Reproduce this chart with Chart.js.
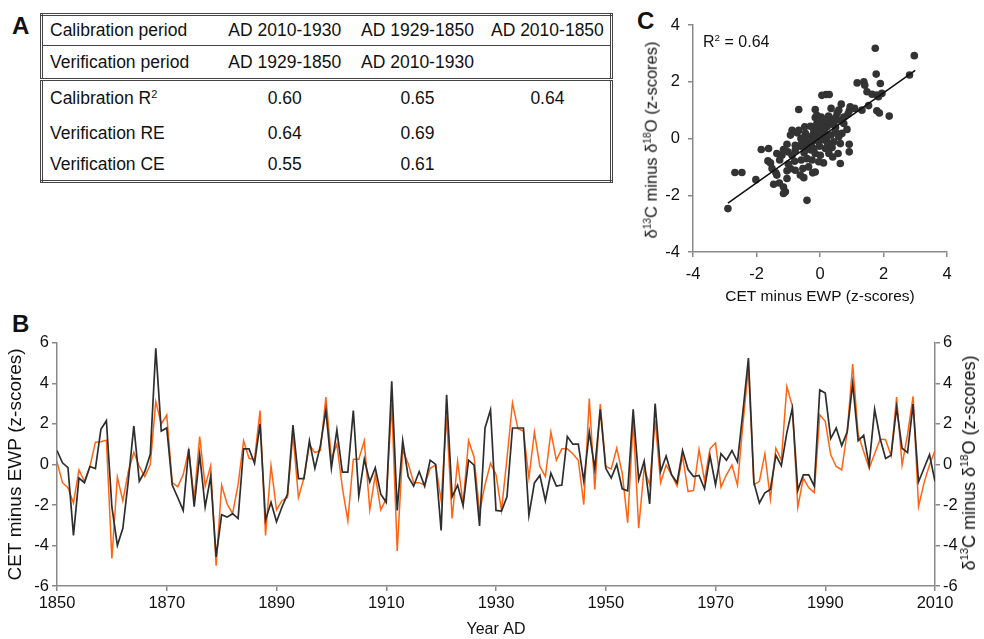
<!DOCTYPE html>
<html>
<head>
<meta charset="utf-8">
<script src="https://cdn.jsdelivr.net/npm/chart.js@4.4.0/dist/chart.umd.min.js"></script>
<style>
  body { margin: 0; background: #fff; font-family: "Liberation Sans", Arial, sans-serif; color: #111; }
  #page { position: relative; width: 984px; height: 639px; overflow: hidden; background: #fff; }
  .letter { position: absolute; font-size: 24px; font-weight: bold; line-height: 1; }
  .vtitle { position: absolute; white-space: nowrap; transform: translate(-50%, -50%) rotate(-90deg); line-height: 1; }
  sup { font-size: 62%; vertical-align: 0.6em; line-height: 0; }
  #tableA { position: absolute; left: 40px; top: 13px; width: 573px; height: 167px;
            border-collapse: collapse; border: 3px double #444; table-layout: fixed; font-size: 17.5px; }
  #tableA td { padding: 0; text-align: center; white-space: nowrap; }
  #tableA td.lab { text-align: left; padding-left: 7px; }
  #tableA tr.r1 td { border-bottom: 1px solid #444; }
  #tableA tr.r2 td { border-bottom: 3px double #444; }
  canvas { position: absolute; }
</style>
</head>
<body>
<div id="page">
  <div class="letter" style="left:12px; top:14px;">A</div>
  <div class="letter" style="left:12px; top:312px;">B</div>
  <div class="letter" style="left:637px; top:9px;">C</div>

  <table id="tableA">
    <colgroup><col style="width:177px"><col style="width:130px"><col style="width:134px"><col style="width:126px"></colgroup>
    <tr class="r1" style="height:31px"><td class="lab">Calibration period</td><td>AD 2010-1930</td><td>AD 1929-1850</td><td>AD 2010-1850</td></tr>
    <tr class="r2" style="height:34px"><td class="lab">Verification period</td><td>AD 1929-1850</td><td>AD 2010-1930</td><td></td></tr>
    <tr style="height:37px"><td class="lab">Calibration R<sup>2</sup></td><td>0.60</td><td>0.65</td><td>0.64</td></tr>
    <tr style="height:33px"><td class="lab">Verification RE</td><td>0.64</td><td>0.69</td><td></td></tr>
    <tr style="height:32px"><td class="lab">Verification CE</td><td>0.55</td><td>0.61</td><td></td></tr>
  </table>

  <canvas id="chartC" width="354" height="310" style="left:630px; top:0px;"></canvas>
  <div style="position:absolute; left:703px; top:34px; font-size:16px; line-height:1;">R<sup>2</sup> = 0.64</div>
  <div class="vtitle" style="left:651px; top:140px; font-size:16.5px;">&delta;<sup>13</sup>C minus &delta;<sup>18</sup>O (z-scores)</div>

  <canvas id="chartB" width="984" height="309" style="left:0px; top:330px;"></canvas>
  <div class="vtitle" style="left:969px; top:463px; font-size:18px;">&delta;<sup>13</sup>C minus &delta;<sup>18</sup>O (z-scores)</div>
</div>

<script>
// Serie temporal B (1850-2010), un valor por año
const firstYear = 1850;
const cetMinusEwp = [
  0.69, 0.08, -0.16, -3.5, -0.67, -0.9, -0.1, -0.2, 1.73, 2.16,
  -2.1, -4.0, -3.15, -0.8, 1.9, -0.83, -0.35, 0.5, 5.73, 1.65,
  1.8, -1.02, -1.63, -2.27, 0.77, -2.08, 0.48, -2.1, -0.6, -4.56,
  -2.48, -2.6, -2.43, -2.67, 0.77, 0.77, 0.05, 2.0, -2.75, -1.87,
  -2.83, -2.1, -1.47, 1.94, -0.7, -0.7, 1.17, -0.19, 0.93, 2.69,
  -0.19, 1.7, -0.38, -0.38, 2.66, -1.55, 0.26, -0.86, -0.16, -1.47,
  -1.87, 4.1, -2.27, 1.17, -0.6, -1.07, -0.35, -1.07, 0.21, 0.0,
  -3.26, 3.44, -1.6, -1.02, -2.03, 0.21, -0.03, -3.04, 1.8, 2.69,
  -2.27, -2.3, -1.6, 1.8, 1.8, 1.8, -2.51, -0.91, -0.54, -1.79,
  -0.43, -1.07, -1.02, 1.38, 1.0, 1.0, -0.83, 1.6, -0.22, 2.72,
  -0.19, -0.67, 0.0, -1.2, -1.3, 2.72, -0.75, 0.16, -1.95, 3.0,
  -0.35, 0.42, -0.51, -0.9, 0.69, -0.25, -0.6, -0.54, -1.2, 0.42,
  -1.0, 0.53, 0.21, 0.69, 0.13, 2.6, 5.25, -0.9, -1.9, -1.4,
  -1.23, 0.45, -0.06, 1.57, 2.77, -1.28, -0.51, -0.51, -1.07, 3.68,
  3.52, 1.28, 1.8, 0.93, 1.6, 4.0, 1.17, 1.44, -0.03, 2.72,
  1.28, 0.29, 0.45, 2.82, 0.8, 0.58, 2.98, -0.86, -0.19, 0.48,
  -0.83
];
const d13cMinusD18o = [
  0.13, -0.9, -1.15, -1.9, -0.27, -0.83, -0.1, 1.1, 1.12, 1.2,
  -4.64, -0.62, -1.8, -0.35, 0.6, -0.1, -0.6, 0.0, 3.1, 2.0,
  2.45, -0.9, -1.1, -0.5, 0.7, -1.7, 1.38, -1.07, -0.06, -5.0,
  -1.02, -1.95, -2.43, -1.0, 1.17, 0.29, 0.26, 2.66, -3.5, -0.06,
  -2.24, -1.79, -1.63, 1.49, -1.63, -0.67, 0.96, 0.58, 0.69, 3.33,
  0.29, 1.0, -1.15, -2.78, 0.26, 0.26, 1.17, -2.24, -0.51, -2.24,
  -1.7, 3.0, -4.27, 0.69, 0.05, -0.9, -0.9, -1.02, -0.19, -0.03,
  -1.79, 2.37, -2.67, 0.16, -1.95, 1.17, 0.37, -2.35, -1.0, 0.05,
  -0.5, -2.27, 0.3, 3.04, 1.76, 1.65, -0.67, 1.6, -0.1, -0.6,
  1.6, 0.21, 0.77, 0.77, 0.53, 0.21, -1.98, 3.25, -1.23, 2.98,
  -0.1, -0.22, 0.8, -0.43, -2.88, 2.18, -3.15, -0.19, -1.0, 2.18,
  -0.9, -0.03, -0.51, -1.07, 0.42, -1.34, -1.28, 0.74, -0.8, 0.77,
  1.06, -1.12, -0.51, -0.03, -1.02, 2.0, 4.77, -1.0, -0.83, 0.53,
  -1.71, 0.8, 0.21, 3.84, 2.88, -2.11, -0.67, -1.15, -1.39, 2.45,
  2.13, 0.48, -0.1, -0.27, 1.6, 4.96, 1.49, 0.64, -0.19, 0.53,
  1.25, 1.22, 0.42, 3.33, -0.03, 1.49, 3.36, -2.08, -0.91, -0.03,
  0.69
];
const yearTicks = [1850, 1870, 1890, 1910, 1930, 1950, 1970, 1990, 2010];
const zTicks = [-6, -4, -2, 0, 2, 4, 6];

// Diagrama de dispersión C
const scatterX = [
  -2.9, -2.68, -2.46, -2.02, -0.41, 1.74, 2.97, 1.77, 2.82, 1.17,
  1.38, 1.41, 1.9, 1.48, 1.64, 1.79, 1.95, 1.84, 1.79, 1.87,
  2.18, 1.32, 1.53, 0.95, 1.09, 0.06, 0.19, 0.29, -0.67, -0.15,
  0.35, 0.67, 0.54, 0.92, 0.88, 0.75, 0.61, 0.49, 0.33, 0.17,
  0.38, 0.22, 0.06, -0.1, -0.04, -0.2, 0.11, 0.49, 0.75, 0.85,
  0.69, 0.59, 0.35, 0.17, -0.04, -0.23, -0.36, -0.51, -0.67, -0.72,
  -0.57, -0.41, -0.25, -0.1, 0.06, 0.22, 0.43, 0.64, 0.38, 0.17,
  -0.02, -0.2, -0.34, -0.46, -0.62, -0.78, -0.78, -0.88, -1.01, -1.15,
  -1.2, -1.27, -1.62, -1.85, -1.64, -1.56, -1.39, -1.36, -1.46, -1.28,
  -1.15, -1.09, -1.15, -1.04, -1.04, -0.93, -0.78, -0.62, -0.51, -0.54,
  -0.36, -0.23, -0.15, -0.59, -0.41, -0.25, -0.04, 0.11, 0.01, -0.15,
  0.28, 0.4, 0.57, 0.64, 0.92, 0.92, -0.88, -0.93, -0.48, -0.3,
  -0.15, 0.04, 0.27, -0.1, -0.46, -1.04, -1.36, -1.51, 0.49, 0.59,
  -0.6, -0.3, 0.0, 0.2, -0.8, -1.0, 0.3, 0.45, -0.5, 0.1
];
const scatterY = [
  -2.47, -1.2, -1.2, -1.45, -2.18, 3.18, 2.92, 2.27, 2.24, 1.96,
  2.0, 1.88, 1.94, 1.65, 1.56, 1.53, 1.59, 1.47, 0.98, 0.9,
  0.79, 1.0, 1.16, 1.12, 1.06, 1.52, 1.55, 1.55, 1.02, 1.02,
  1.06, 1.21, 0.9, 0.98, 0.86, 0.76, 0.65, 0.74, 0.65, 0.59,
  0.5, 0.41, 0.59, 0.53, 0.39, 0.32, 0.32, 0.39, 0.53, 0.32,
  0.18, 0.06, 0.12, 0.18, 0.15, 0.12, 0.0, 0.03, 0.29, 0.2,
  -0.12, -0.06, -0.12, -0.06, -0.04, -0.12, -0.12, -0.18, -0.32, -0.35,
  -0.27, -0.35, -0.27, -0.29, -0.27, -0.24, -0.41, -0.59, -0.47, -0.39,
  -0.59, -0.76, -0.35, -0.39, -0.79, -0.86, -1.21, -1.29, -1.61, -1.57,
  -1.71, -1.88, -1.94, -1.41, -1.14, -1.06, -1.12, -1.29, -1.38, -1.06,
  -1.0, -1.21, -1.18, -0.76, -0.71, -0.76, -0.82, -0.86, -0.59, -0.53,
  -0.53, -0.65, -0.53, -0.88, -0.47, -0.2, 0.29, 0.12, 0.41, 0.43,
  0.74, 0.76, 0.79, 0.82, 0.18, -0.2, -0.53, -1.06, 0.23, 1.0,
  0.0, -0.4, 0.0, 0.05, -0.8, -0.9, -0.2, 0.6, -0.5, 0.45
];
// Recta de regresión (extremos)
const trendX = [-2.9, 3.0];
const trendY = [-2.28, 2.4];
const scatterTicks = [-4, -2, 0, 2, 4];

const fontFamily = '"Liberation Sans", Arial, sans-serif';
const axisColor = '#8a8a8a';
const textColor = '#111';
Chart.defaults.font.family = fontFamily;
Chart.defaults.color = textColor;

function fixedTicks(list) {
  return function (scale) {
    scale.ticks = list.map(v => ({ value: v }));
  };
}

function axisStyle(extra) {
  return Object.assign({
    grid: { drawOnChartArea: false, drawTicks: true, tickLength: 5, color: axisColor, lineWidth: 1.5 },
    border: { display: true, color: axisColor, width: 1.5 },
  }, extra);
}

// Gráfico B
const seriesBlack = cetMinusEwp.map((v, i) => ({ x: firstYear + i, y: v }));
const seriesOrange = d13cMinusD18o.map((v, i) => ({ x: firstYear + i, y: v }));

new Chart(document.getElementById('chartB'), {
  type: 'line',
  data: {
    datasets: [
      { label: 'CET minus EWP', data: seriesBlack, borderColor: '#2e2e2e', borderWidth: 1.7,
        pointRadius: 0, tension: 0, yAxisID: 'y' },
      { label: 'd13C minus d18O', data: seriesOrange, borderColor: '#ff6410', borderWidth: 1.5,
        pointRadius: 0, tension: 0, yAxisID: 'y2' }
    ]
  },
  options: {
    responsive: false,
    animation: false,
    layout: { padding: { top: 9, left: 0, right: 0, bottom: 0 } },
    plugins: { legend: { display: false }, tooltip: { enabled: false } },
    scales: {
      x: axisStyle({
        type: 'linear', min: 1850, max: 2010,
        afterBuildTicks: fixedTicks(yearTicks),
        afterFit: s => { s.height = 53; },
        ticks: { callback: v => String(v), font: { size: 16.5 }, color: textColor, padding: 3, maxRotation: 0, autoSkip: false },
        title: { display: true, text: 'Year AD', font: { size: 16 }, color: textColor, padding: { top: 0, bottom: 0 } }
      }),
      y: axisStyle({
        position: 'left', min: -6, max: 6,
        afterBuildTicks: fixedTicks(zTicks),
        afterFit: s => { s.width = 57; },
        ticks: { font: { size: 16.5 }, color: textColor, padding: 3 },
        title: { display: true, text: 'CET minus EWP (z-scores)', font: { size: 19 }, color: textColor, padding: { top: 4, bottom: 0 } }
      }),
      y2: axisStyle({
        position: 'right', min: -6, max: 6,
        afterBuildTicks: fixedTicks(zTicks),
        afterFit: s => { s.width = 49; },
        ticks: { font: { size: 16.5 }, color: textColor, padding: 3 }
      })
    }
  }
});

// Gráfico C
const scatterPoints = scatterX.map((x, i) => ({ x: x, y: scatterY[i] }));
const trendPoints = trendX.map((x, i) => ({ x: x, y: trendY[i] }));

new Chart(document.getElementById('chartC'), {
  type: 'scatter',
  data: {
    datasets: [
      { label: 'trend', data: trendPoints, showLine: true, borderColor: '#111', borderWidth: 1.6,
        pointRadius: 0, tension: 0 },
      { label: 'years', data: scatterPoints, backgroundColor: '#333', borderColor: '#333',
        pointRadius: 3.8, borderWidth: 0 }
    ]
  },
  options: {
    responsive: false,
    animation: false,
    layout: { padding: { top: 25, left: 0, right: 37, bottom: 0 } },
    plugins: { legend: { display: false }, tooltip: { enabled: false } },
    scales: {
      x: axisStyle({
        type: 'linear', min: -4, max: 4,
        afterBuildTicks: fixedTicks(scatterTicks),
        afterFit: s => { s.height = 58; },
        ticks: { font: { size: 16.5 }, color: textColor, padding: 8, maxRotation: 0 },
        title: { display: true, text: 'CET minus EWP (z-scores)', font: { size: 15.5 }, color: textColor, padding: { top: 0, bottom: 4 } }
      }),
      y: axisStyle({
        type: 'linear', min: -4, max: 4,
        afterBuildTicks: fixedTicks(scatterTicks),
        afterFit: s => { s.width = 63; },
        ticks: { font: { size: 16.5 }, color: textColor, padding: 8 }
      })
    }
  }
});
</script>
</body>
</html>
